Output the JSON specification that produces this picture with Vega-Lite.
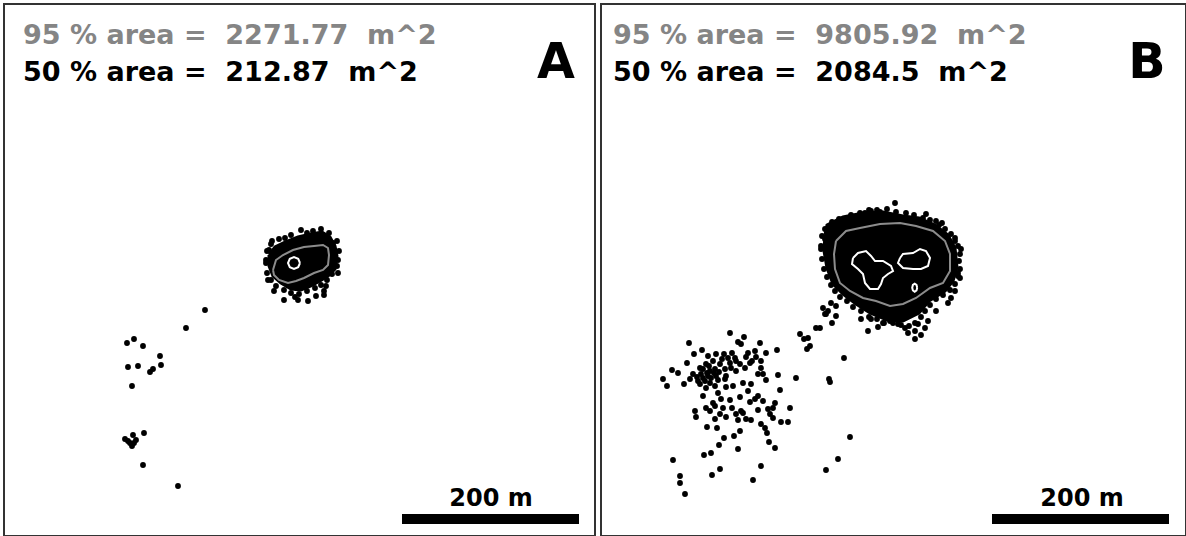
{
"$schema":"https://vega.github.io/schema/vega-lite/v6.json",
"padding":{"left":3,"top":3,"right":3,"bottom":1},
"background":"white",
"spacing":4,
"config":{"view":{"stroke":"#333333","strokeWidth":2},"axis":{"disable":true}},
"datasets":{
"pts":[
{"p":"A","x":204,"y":309},{"p":"A","x":185,"y":327},{"p":"A","x":126,"y":342},{"p":"A","x":133,"y":338},{"p":"A","x":142,"y":345},{"p":"A","x":159,"y":355},{"p":"A","x":127,"y":366},{"p":"A","x":137,"y":365},{"p":"A","x":149,"y":371},{"p":"A","x":152,"y":368},{"p":"A","x":160,"y":364},{"p":"A","x":131,"y":385},{"p":"A","x":124,"y":438},{"p":"A","x":132,"y":434},{"p":"A","x":129,"y":442},{"p":"A","x":133,"y":442},{"p":"A","x":131,"y":445},{"p":"A","x":135,"y":439},{"p":"A","x":127,"y":440},{"p":"A","x":143,"y":432},{"p":"A","x":142,"y":464},{"p":"A","x":177,"y":485},
{"p":"A","x":266,"y":250},{"p":"A","x":270,"y":243},{"p":"A","x":278,"y":238},{"p":"A","x":290,"y":234},{"p":"A","x":300,"y":229},{"p":"A","x":312,"y":230},{"p":"A","x":320,"y":228},{"p":"A","x":328,"y":232},{"p":"A","x":336,"y":240},{"p":"A","x":332,"y":242},{"p":"A","x":338,"y":250},{"p":"A","x":337,"y":259},{"p":"A","x":336,"y":265},{"p":"A","x":337,"y":272},{"p":"A","x":331,"y":273},{"p":"A","x":326,"y":279},{"p":"A","x":320,"y":284},{"p":"A","x":325,"y":285},{"p":"A","x":323,"y":290},{"p":"A","x":323,"y":294},{"p":"A","x":315,"y":295},{"p":"A","x":314,"y":287},{"p":"A","x":306,"y":290},{"p":"A","x":307,"y":300},{"p":"A","x":298,"y":293},{"p":"A","x":297,"y":299},{"p":"A","x":290,"y":292},{"p":"A","x":283,"y":289},{"p":"A","x":283,"y":299},{"p":"A","x":275,"y":285},{"p":"A","x":273,"y":290},{"p":"A","x":270,"y":279},{"p":"A","x":267,"y":279},{"p":"A","x":266,"y":272},{"p":"A","x":265,"y":262},{"p":"A","x":265,"y":259},{"p":"A","x":268,"y":249},{"p":"A","x":271,"y":240},{"p":"A","x":284,"y":237},{"p":"A","x":306,"y":232},{"p":"A","x":294,"y":296},
{"p":"B","x":823,"y":313},{"p":"B","x":833,"y":315},{"p":"B","x":829,"y":322},{"p":"B","x":817,"y":327},{"p":"B","x":797,"y":333},{"p":"B","x":801,"y":338},{"p":"B","x":804,"y":348},{"p":"B","x":841,"y":357},{"p":"B","x":826,"y":378},{"p":"B","x":827,"y":381},{"p":"B","x":847,"y":436},{"p":"B","x":835,"y":458},{"p":"B","x":823,"y":469},
{"p":"B","x":727,"y":332},{"p":"B","x":741,"y":336},{"p":"B","x":735,"y":341},{"p":"B","x":738,"y":343},{"p":"B","x":686,"y":342},{"p":"B","x":757,"y":342},{"p":"B","x":699,"y":349},{"p":"B","x":691,"y":353},{"p":"B","x":705,"y":355},{"p":"B","x":713,"y":353},{"p":"B","x":721,"y":353},{"p":"B","x":729,"y":352},{"p":"B","x":732,"y":357},{"p":"B","x":743,"y":356},{"p":"B","x":752,"y":350},{"p":"B","x":753,"y":356},{"p":"B","x":763,"y":352},{"p":"B","x":774,"y":349},{"p":"B","x":758,"y":360},{"p":"B","x":710,"y":360},{"p":"B","x":703,"y":363},{"p":"B","x":717,"y":363},{"p":"B","x":727,"y":362},{"p":"B","x":737,"y":363},{"p":"B","x":747,"y":362},{"p":"B","x":697,"y":367},{"p":"B","x":707,"y":370},{"p":"B","x":712,"y":368},{"p":"B","x":722,"y":368},{"p":"B","x":733,"y":370},{"p":"B","x":742,"y":367},{"p":"B","x":758,"y":367},{"p":"B","x":669,"y":369},{"p":"B","x":690,"y":373},{"p":"B","x":698,"y":373},{"p":"B","x":705,"y":375},{"p":"B","x":713,"y":375},{"p":"B","x":723,"y":375},{"p":"B","x":755,"y":373},{"p":"B","x":760,"y":373},{"p":"B","x":775,"y":374},{"p":"B","x":793,"y":377},{"p":"B","x":660,"y":378},{"p":"B","x":687,"y":378},{"p":"B","x":695,"y":380},{"p":"B","x":702,"y":380},{"p":"B","x":707,"y":382},{"p":"B","x":722,"y":378},{"p":"B","x":763,"y":379},{"p":"B","x":664,"y":385},{"p":"B","x":681,"y":383},{"p":"B","x":697,"y":383},{"p":"B","x":703,"y":387},{"p":"B","x":712,"y":385},{"p":"B","x":723,"y":386},{"p":"B","x":730,"y":385},{"p":"B","x":740,"y":382},{"p":"B","x":748,"y":383},{"p":"B","x":777,"y":389},{"p":"B","x":715,"y":392},{"p":"B","x":737,"y":396},{"p":"B","x":755,"y":395},{"p":"B","x":752,"y":398},{"p":"B","x":727,"y":399},{"p":"B","x":747,"y":401},{"p":"B","x":710,"y":402},{"p":"B","x":772,"y":402},{"p":"B","x":703,"y":407},{"p":"B","x":712,"y":405},{"p":"B","x":720,"y":407},{"p":"B","x":729,"y":407},{"p":"B","x":738,"y":410},{"p":"B","x":755,"y":409},{"p":"B","x":765,"y":408},{"p":"B","x":770,"y":407},{"p":"B","x":787,"y":407},{"p":"B","x":692,"y":410},{"p":"B","x":707,"y":410},{"p":"B","x":717,"y":413},{"p":"B","x":723,"y":416},{"p":"B","x":733,"y":413},{"p":"B","x":740,"y":412},{"p":"B","x":767,"y":413},{"p":"B","x":693,"y":416},{"p":"B","x":712,"y":418},{"p":"B","x":735,"y":419},{"p":"B","x":743,"y":418},{"p":"B","x":748,"y":419},{"p":"B","x":770,"y":417},{"p":"B","x":778,"y":421},{"p":"B","x":785,"y":421},{"p":"B","x":758,"y":423},{"p":"B","x":704,"y":426},{"p":"B","x":714,"y":427},{"p":"B","x":762,"y":427},{"p":"B","x":764,"y":432},{"p":"B","x":737,"y":430},{"p":"B","x":721,"y":437},{"p":"B","x":731,"y":435},{"p":"B","x":766,"y":441},{"p":"B","x":716,"y":444},{"p":"B","x":772,"y":447},{"p":"B","x":735,"y":448},{"p":"B","x":708,"y":452},{"p":"B","x":701,"y":454},{"p":"B","x":670,"y":459},{"p":"B","x":758,"y":465},{"p":"B","x":717,"y":468},{"p":"B","x":709,"y":474},{"p":"B","x":677,"y":475},{"p":"B","x":677,"y":482},{"p":"B","x":750,"y":479},{"p":"B","x":682,"y":493},
{"p":"B","x":700,"y":368},{"p":"B","x":704,"y":372},{"p":"B","x":708,"y":377},{"p":"B","x":700,"y":377},{"p":"B","x":711,"y":372},{"p":"B","x":716,"y":371},{"p":"B","x":719,"y":358},{"p":"B","x":725,"y":357},{"p":"B","x":733,"y":360},{"p":"B","x":745,"y":352},{"p":"B","x":749,"y":360},{"p":"B","x":728,"y":367},{"p":"B","x":694,"y":376},{"p":"B","x":706,"y":365},{"p":"B","x":715,"y":379},{"p":"B","x":718,"y":398},{"p":"B","x":745,"y":390},{"p":"B","x":760,"y":400},{"p":"B","x":700,"y":395},{"p":"B","x":684,"y":362},{"p":"B","x":675,"y":372},
{"p":"B","x":892,"y":202},{"p":"B","x":877,"y":211},{"p":"B","x":885,"y":214},{"p":"B","x":923,"y":213},{"p":"B","x":933,"y":220},{"p":"B","x":939,"y":222},{"p":"B","x":868,"y":210},{"p":"B","x":862,"y":212},{"p":"B","x":855,"y":215},{"p":"B","x":847,"y":217},{"p":"B","x":840,"y":222},{"p":"B","x":833,"y":225},{"p":"B","x":825,"y":228},{"p":"B","x":822,"y":238},{"p":"B","x":818,"y":248},{"p":"B","x":952,"y":237},{"p":"B","x":958,"y":248},
{"p":"B","x":828,"y":302},{"p":"B","x":825,"y":310},{"p":"B","x":822,"y":313},{"p":"B","x":865,"y":330},{"p":"B","x":912,"y":338},{"p":"B","x":868,"y":318},{"p":"B","x":880,"y":322},{"p":"B","x":887,"y":320},{"p":"B","x":895,"y":323},{"p":"B","x":902,"y":327},{"p":"B","x":912,"y":330},{"p":"B","x":925,"y":320},{"p":"B","x":922,"y":327},{"p":"B","x":915,"y":323},{"p":"B","x":933,"y":310},{"p":"B","x":945,"y":302},{"p":"B","x":948,"y":297},{"p":"B","x":952,"y":290},{"p":"B","x":957,"y":277},{"p":"B","x":955,"y":272},{"p":"B","x":820,"y":307},{"p":"B","x":813,"y":327},{"p":"B","x":805,"y":337},{"p":"B","x":807,"y":345},{"p":"B","x":833,"y":305},{"p":"B","x":858,"y":318},{"p":"B","x":875,"y":326},{"p":"B","x":905,"y":332},{"p":"B","x":918,"y":334},
{"p":"B","x":819,"y":235},{"p":"B","x":822,"y":228},{"p":"B","x":829,"y":221},{"p":"B","x":836,"y":218},{"p":"B","x":848,"y":214},{"p":"B","x":857,"y":212},{"p":"B","x":866,"y":209},{"p":"B","x":874,"y":209},{"p":"B","x":884,"y":208},{"p":"B","x":893,"y":211},{"p":"B","x":903,"y":212},{"p":"B","x":911,"y":214},{"p":"B","x":920,"y":217},{"p":"B","x":927,"y":219},{"p":"B","x":936,"y":224},{"p":"B","x":942,"y":228},{"p":"B","x":948,"y":233},{"p":"B","x":952,"y":240},{"p":"B","x":955,"y":245},{"p":"B","x":957,"y":253},{"p":"B","x":956,"y":260},{"p":"B","x":957,"y":268},{"p":"B","x":955,"y":275},{"p":"B","x":952,"y":283},{"p":"B","x":947,"y":289},{"p":"B","x":940,"y":294},{"p":"B","x":933,"y":298},{"p":"B","x":927,"y":304},{"p":"B","x":922,"y":310},{"p":"B","x":918,"y":316},{"p":"B","x":912,"y":322},{"p":"B","x":906,"y":325},{"p":"B","x":898,"y":324},{"p":"B","x":890,"y":322},{"p":"B","x":881,"y":322},{"p":"B","x":874,"y":318},{"p":"B","x":866,"y":316},{"p":"B","x":858,"y":310},{"p":"B","x":850,"y":306},{"p":"B","x":844,"y":300},{"p":"B","x":837,"y":296},{"p":"B","x":832,"y":290},{"p":"B","x":828,"y":284},{"p":"B","x":824,"y":276},{"p":"B","x":821,"y":268},{"p":"B","x":819,"y":258},{"p":"B","x":818,"y":245}
],
"mass":[
{"p":"A","o":0,"x":268,"y":254},{"p":"A","o":1,"x":274,"y":246},{"p":"A","o":2,"x":284,"y":241},{"p":"A","o":3,"x":297,"y":236},{"p":"A","o":4,"x":310,"y":233},{"p":"A","o":5,"x":321,"y":231},{"p":"A","o":6,"x":329,"y":236},{"p":"A","o":7,"x":334,"y":245},{"p":"A","o":8,"x":336,"y":255},{"p":"A","o":9,"x":334,"y":268},{"p":"A","o":10,"x":327,"y":275},{"p":"A","o":11,"x":319,"y":280},{"p":"A","o":12,"x":310,"y":285},{"p":"A","o":13,"x":300,"y":289},{"p":"A","o":14,"x":290,"y":288},{"p":"A","o":15,"x":280,"y":282},{"p":"A","o":16,"x":272,"y":275},{"p":"A","o":17,"x":268,"y":265},{"p":"A","o":18,"x":268,"y":254},
{"p":"B","o":0,"x":822,"y":234},{"p":"B","o":1,"x":824,"y":224},{"p":"B","o":2,"x":840,"y":216},{"p":"B","o":3,"x":860,"y":212},{"p":"B","o":4,"x":880,"y":211},{"p":"B","o":5,"x":900,"y":215},{"p":"B","o":6,"x":916,"y":217},{"p":"B","o":7,"x":932,"y":224},{"p":"B","o":8,"x":945,"y":234},{"p":"B","o":9,"x":952,"y":247},{"p":"B","o":10,"x":954,"y":266},{"p":"B","o":11,"x":950,"y":280},{"p":"B","o":12,"x":942,"y":290},{"p":"B","o":13,"x":926,"y":300},{"p":"B","o":14,"x":916,"y":312},{"p":"B","o":15,"x":900,"y":320},{"p":"B","o":16,"x":884,"y":319},{"p":"B","o":17,"x":867,"y":312},{"p":"B","o":18,"x":853,"y":303},{"p":"B","o":19,"x":840,"y":293},{"p":"B","o":20,"x":830,"y":283},{"p":"B","o":21,"x":824,"y":267},{"p":"B","o":22,"x":821,"y":250},{"p":"B","o":23,"x":822,"y":234}
],
"cont":[
{"p":"A","id":"A95","k":"c95","o":0,"x":272,"y":269},{"p":"A","id":"A95","k":"c95","o":1,"x":275,"y":259},{"p":"A","id":"A95","k":"c95","o":2,"x":282,"y":254},{"p":"A","id":"A95","k":"c95","o":3,"x":292,"y":249},{"p":"A","id":"A95","k":"c95","o":4,"x":303,"y":246},{"p":"A","id":"A95","k":"c95","o":5,"x":313,"y":245},{"p":"A","id":"A95","k":"c95","o":6,"x":322,"y":244},{"p":"A","id":"A95","k":"c95","o":7,"x":327,"y":247},{"p":"A","id":"A95","k":"c95","o":8,"x":328,"y":254},{"p":"A","id":"A95","k":"c95","o":9,"x":327,"y":264},{"p":"A","id":"A95","k":"c95","o":10,"x":322,"y":269},{"p":"A","id":"A95","k":"c95","o":11,"x":313,"y":272},{"p":"A","id":"A95","k":"c95","o":12,"x":303,"y":277},{"p":"A","id":"A95","k":"c95","o":13,"x":295,"y":280},{"p":"A","id":"A95","k":"c95","o":14,"x":287,"y":282},{"p":"A","id":"A95","k":"c95","o":15,"x":278,"y":279},{"p":"A","id":"A95","k":"c95","o":16,"x":273,"y":274},{"p":"A","id":"A95","k":"c95","o":17,"x":272,"y":269},
{"p":"A","id":"A50","k":"c50","o":0,"x":299,"y":262},{"p":"A","id":"A50","k":"c50","o":1,"x":297.2,"y":266.2},{"p":"A","id":"A50","k":"c50","o":2,"x":293,"y":268},{"p":"A","id":"A50","k":"c50","o":3,"x":288.8,"y":266.2},{"p":"A","id":"A50","k":"c50","o":4,"x":287,"y":262},{"p":"A","id":"A50","k":"c50","o":5,"x":288.8,"y":257.8},{"p":"A","id":"A50","k":"c50","o":6,"x":293,"y":256},{"p":"A","id":"A50","k":"c50","o":7,"x":297.2,"y":257.8},{"p":"A","id":"A50","k":"c50","o":8,"x":299,"y":262},
{"p":"B","id":"B95","k":"c95","o":0,"x":833,"y":240},{"p":"B","id":"B95","k":"c95","o":1,"x":843,"y":230},{"p":"B","id":"B95","k":"c95","o":2,"x":857,"y":227},{"p":"B","id":"B95","k":"c95","o":3,"x":877,"y":223},{"p":"B","id":"B95","k":"c95","o":4,"x":897,"y":222},{"p":"B","id":"B95","k":"c95","o":5,"x":913,"y":225},{"p":"B","id":"B95","k":"c95","o":6,"x":930,"y":230},{"p":"B","id":"B95","k":"c95","o":7,"x":942,"y":240},{"p":"B","id":"B95","k":"c95","o":8,"x":947,"y":253},{"p":"B","id":"B95","k":"c95","o":9,"x":947,"y":270},{"p":"B","id":"B95","k":"c95","o":10,"x":940,"y":282},{"p":"B","id":"B95","k":"c95","o":11,"x":927,"y":287},{"p":"B","id":"B95","k":"c95","o":12,"x":913,"y":297},{"p":"B","id":"B95","k":"c95","o":13,"x":900,"y":303},{"p":"B","id":"B95","k":"c95","o":14,"x":887,"y":305},{"p":"B","id":"B95","k":"c95","o":15,"x":873,"y":300},{"p":"B","id":"B95","k":"c95","o":16,"x":860,"y":297},{"p":"B","id":"B95","k":"c95","o":17,"x":847,"y":290},{"p":"B","id":"B95","k":"c95","o":18,"x":837,"y":282},{"p":"B","id":"B95","k":"c95","o":19,"x":832,"y":268},{"p":"B","id":"B95","k":"c95","o":20,"x":831,"y":253},{"p":"B","id":"B95","k":"c95","o":21,"x":833,"y":240},
{"p":"B","id":"B50a","k":"c50","o":0,"x":850,"y":257},{"p":"B","id":"B50a","k":"c50","o":1,"x":855,"y":252},{"p":"B","id":"B50a","k":"c50","o":2,"x":863,"y":250},{"p":"B","id":"B50a","k":"c50","o":3,"x":868,"y":255},{"p":"B","id":"B50a","k":"c50","o":4,"x":872,"y":260},{"p":"B","id":"B50a","k":"c50","o":5,"x":880,"y":260},{"p":"B","id":"B50a","k":"c50","o":6,"x":888,"y":265},{"p":"B","id":"B50a","k":"c50","o":7,"x":890,"y":270},{"p":"B","id":"B50a","k":"c50","o":8,"x":885,"y":273},{"p":"B","id":"B50a","k":"c50","o":9,"x":880,"y":277},{"p":"B","id":"B50a","k":"c50","o":10,"x":878,"y":283},{"p":"B","id":"B50a","k":"c50","o":11,"x":875,"y":288},{"p":"B","id":"B50a","k":"c50","o":12,"x":867,"y":288},{"p":"B","id":"B50a","k":"c50","o":13,"x":862,"y":282},{"p":"B","id":"B50a","k":"c50","o":14,"x":860,"y":273},{"p":"B","id":"B50a","k":"c50","o":15,"x":855,"y":268},{"p":"B","id":"B50a","k":"c50","o":16,"x":849,"y":263},{"p":"B","id":"B50a","k":"c50","o":17,"x":850,"y":257},
{"p":"B","id":"B50b","k":"c50","o":0,"x":897,"y":257},{"p":"B","id":"B50b","k":"c50","o":1,"x":900,"y":253},{"p":"B","id":"B50b","k":"c50","o":2,"x":910,"y":252},{"p":"B","id":"B50b","k":"c50","o":3,"x":917,"y":248},{"p":"B","id":"B50b","k":"c50","o":4,"x":923,"y":250},{"p":"B","id":"B50b","k":"c50","o":5,"x":927,"y":257},{"p":"B","id":"B50b","k":"c50","o":6,"x":925,"y":265},{"p":"B","id":"B50b","k":"c50","o":7,"x":918,"y":268},{"p":"B","id":"B50b","k":"c50","o":8,"x":910,"y":268},{"p":"B","id":"B50b","k":"c50","o":9,"x":900,"y":267},{"p":"B","id":"B50b","k":"c50","o":10,"x":895,"y":262},{"p":"B","id":"B50b","k":"c50","o":11,"x":897,"y":257},
{"p":"B","id":"B50c","k":"c50","o":0,"x":914.2,"y":286.7},{"p":"B","id":"B50c","k":"c50","o":1,"x":913.5,"y":289.5},{"p":"B","id":"B50c","k":"c50","o":2,"x":911.7,"y":290.7},{"p":"B","id":"B50c","k":"c50","o":3,"x":909.9,"y":289.5},{"p":"B","id":"B50c","k":"c50","o":4,"x":909.2,"y":286.7},{"p":"B","id":"B50c","k":"c50","o":5,"x":909.9,"y":283.9},{"p":"B","id":"B50c","k":"c50","o":6,"x":911.7,"y":282.7},{"p":"B","id":"B50c","k":"c50","o":7,"x":913.5,"y":283.9},{"p":"B","id":"B50c","k":"c50","o":8,"x":914.2,"y":286.7}
],
"stats":[
{"p":"A","x":22,"y":43,"t":"95 % area =\u00a0 2271.77\u00a0 m^2","k":"t95"},
{"p":"A","x":22,"y":80,"t":"50 % area =\u00a0 212.87\u00a0 m^2","k":"t50"},
{"p":"B","x":610,"y":43,"t":"95 % area =\u00a0 9805.92\u00a0 m^2","k":"t95"},
{"p":"B","x":610,"y":80,"t":"50 % area =\u00a0 2084.5\u00a0 m^2","k":"t50"}
],
"letters":[{"p":"A","x":555,"y":77,"t":"A"},{"p":"B","x":1144,"y":77,"t":"B"}],
"bars":[{"p":"A","x":401,"x2":578,"y":513,"y2":523,"xc":490,"yl":505,"t":"200 m"},{"p":"B","x":989,"x2":1166,"y":513,"y2":523,"xc":1079,"yl":505,"t":"200 m"}]
},
"hconcat":[
{"width":591,"height":532,
"layer":[
{"data":{"name":"mass"},"transform":[{"filter":"datum.p=='A'"}],"mark":{"type":"line","fill":"black","stroke":"black","strokeWidth":3},
"encoding":{"x":{"field":"x","type":"quantitative","scale":{"domain":[3,594],"nice":false,"zero":false}},"y":{"field":"y","type":"quantitative","scale":{"domain":[3,535],"nice":false,"zero":false,"reverse":true}},"order":{"field":"o","type":"quantitative"}}},
{"data":{"name":"pts"},"transform":[{"filter":"datum.p=='A'"}],"mark":{"type":"point","filled":true,"color":"black","opacity":1,"size":34},
"encoding":{"x":{"field":"x","type":"quantitative"},"y":{"field":"y","type":"quantitative"}}},
{"data":{"name":"cont"},"transform":[{"filter":"datum.p=='A'"}],"mark":{"type":"line","strokeWidth":2},
"encoding":{"x":{"field":"x","type":"quantitative"},"y":{"field":"y","type":"quantitative"},"detail":{"field":"id"},"order":{"field":"o","type":"quantitative"},
"color":{"field":"k","type":"nominal","legend":null,"scale":{"domain":["c95","c50","t95","t50"],"range":["#8c8c8c","#ffffff","#858585","#000000"]}}}},
{"data":{"name":"stats"},"transform":[{"filter":"datum.p=='A'"}],"mark":{"type":"text","align":"left","baseline":"alphabetic","font":"DejaVu Sans","fontWeight":"bold","fontSize":27},
"encoding":{"x":{"field":"x","type":"quantitative"},"y":{"field":"y","type":"quantitative"},"text":{"field":"t"},
"color":{"field":"k","type":"nominal","legend":null,"scale":{"domain":["c95","c50","t95","t50"],"range":["#8c8c8c","#ffffff","#858585","#000000"]}}}},
{"data":{"name":"letters"},"transform":[{"filter":"datum.p=='A'"}],"mark":{"type":"text","align":"center","baseline":"alphabetic","font":"DejaVu Sans","fontWeight":"bold","fontSize":49,"color":"black"},
"encoding":{"x":{"field":"x","type":"quantitative"},"y":{"field":"y","type":"quantitative"},"text":{"field":"t"}}},
{"data":{"name":"bars"},"transform":[{"filter":"datum.p=='A'"}],"mark":{"type":"rect","color":"black"},
"encoding":{"x":{"field":"x","type":"quantitative"},"x2":{"field":"x2"},"y":{"field":"y","type":"quantitative"},"y2":{"field":"y2"}}},
{"data":{"name":"bars"},"transform":[{"filter":"datum.p=='A'"}],"mark":{"type":"text","align":"center","baseline":"alphabetic","font":"DejaVu Sans","fontWeight":"bold","fontSize":24,"color":"black"},
"encoding":{"x":{"field":"xc","type":"quantitative"},"y":{"field":"yl","type":"quantitative"},"text":{"field":"t"}}}
]},
{"width":585,"height":532,
"layer":[
{"data":{"name":"mass"},"transform":[{"filter":"datum.p=='B'"}],"mark":{"type":"line","fill":"black","stroke":"black","strokeWidth":3},
"encoding":{"x":{"field":"x","type":"quantitative","scale":{"domain":[598,1183],"nice":false,"zero":false}},"y":{"field":"y","type":"quantitative","scale":{"domain":[3,535],"nice":false,"zero":false,"reverse":true}},"order":{"field":"o","type":"quantitative"}}},
{"data":{"name":"pts"},"transform":[{"filter":"datum.p=='B'"}],"mark":{"type":"point","filled":true,"color":"black","opacity":1,"size":34},
"encoding":{"x":{"field":"x","type":"quantitative"},"y":{"field":"y","type":"quantitative"}}},
{"data":{"name":"cont"},"transform":[{"filter":"datum.p=='B'"}],"mark":{"type":"line","strokeWidth":2},
"encoding":{"x":{"field":"x","type":"quantitative"},"y":{"field":"y","type":"quantitative"},"detail":{"field":"id"},"order":{"field":"o","type":"quantitative"},
"color":{"field":"k","type":"nominal","legend":null,"scale":{"domain":["c95","c50","t95","t50"],"range":["#8c8c8c","#ffffff","#858585","#000000"]}}}},
{"data":{"name":"stats"},"transform":[{"filter":"datum.p=='B'"}],"mark":{"type":"text","align":"left","baseline":"alphabetic","font":"DejaVu Sans","fontWeight":"bold","fontSize":27},
"encoding":{"x":{"field":"x","type":"quantitative"},"y":{"field":"y","type":"quantitative"},"text":{"field":"t"},
"color":{"field":"k","type":"nominal","legend":null,"scale":{"domain":["c95","c50","t95","t50"],"range":["#8c8c8c","#ffffff","#858585","#000000"]}}}},
{"data":{"name":"letters"},"transform":[{"filter":"datum.p=='B'"}],"mark":{"type":"text","align":"center","baseline":"alphabetic","font":"DejaVu Sans","fontWeight":"bold","fontSize":49,"color":"black"},
"encoding":{"x":{"field":"x","type":"quantitative"},"y":{"field":"y","type":"quantitative"},"text":{"field":"t"}}},
{"data":{"name":"bars"},"transform":[{"filter":"datum.p=='B'"}],"mark":{"type":"rect","color":"black"},
"encoding":{"x":{"field":"x","type":"quantitative"},"x2":{"field":"x2"},"y":{"field":"y","type":"quantitative"},"y2":{"field":"y2"}}},
{"data":{"name":"bars"},"transform":[{"filter":"datum.p=='B'"}],"mark":{"type":"text","align":"center","baseline":"alphabetic","font":"DejaVu Sans","fontWeight":"bold","fontSize":24,"color":"black"},
"encoding":{"x":{"field":"xc","type":"quantitative"},"y":{"field":"yl","type":"quantitative"},"text":{"field":"t"}}}
]}
]
}
